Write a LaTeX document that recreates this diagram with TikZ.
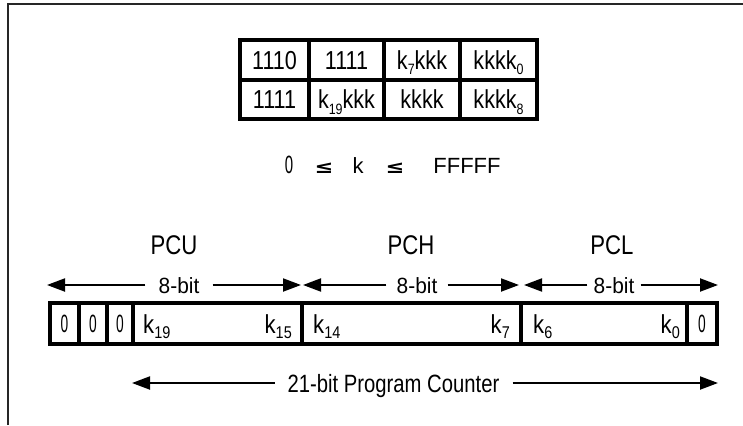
\documentclass[tikz,border=0pt]{standalone}
\usepackage{fontspec}
\setmainfont{Liberation Sans}
\newfontfamily\dejavu{DejaVu Sans}
\usetikzlibrary{arrows.meta}
\newcommand{\sx}[2]{\scalebox{#1}[1]{#2}}
\newcommand{\fs}[1]{\fontsize{#1}{#1}\selectfont}
\newcommand{\tsub}[1]{\raisebox{-0.2em}{\fs{15}#1}}
\newcommand{\psub}[1]{\raisebox{-0.2em}{\fs{17}#1}}
\begin{document}
\begin{tikzpicture}[x=1pt,y=-1pt,
  frameline/.style={line width=2pt, draw=black!85},
  tcell/.style n args={2}{draw, line width=3.8pt, minimum width=#1pt, minimum height=#2pt,
    inner sep=0pt, font=\fs{26}, text height=19pt, text depth=0pt},
  pcell/.style={draw, line width=3.8pt, minimum width=#1pt, minimum height=41pt,
    inner sep=0pt, font=\fs{25}, text height=18pt, text depth=0pt},
  klbl/.style={inner sep=0pt, font=\fs{26}},
  reglbl/.style={inner sep=0pt, font=\fs{27}, anchor=base},
  bitlbl/.style={inner ysep=0pt, inner xsep=#1pt, font=\fs{22}, text height=16pt, text depth=0pt},
  pclbl/.style={inner ysep=0pt, inner xsep=13pt, font=\fs{25}, text height=18pt, text depth=0pt},
  rng/.style={inner sep=0pt, anchor=base, font=\fs{22}},
  arr/.style={line width=2pt, -{Triangle[length=18pt,width=13pt]}}
]
\useasboundingbox (0,0) rectangle (743,425);
\fill[white] (0,0) rectangle (743,425);

% frame
\draw[frameline] (8,425) -- (8,4) -- (743,4);

% instruction table
\node[tcell={69}{40}] (t11) at (274.5,60)  {\sx{0.83}{1110}};
\node[tcell={75}{40}] (t12) at (346.5,60)  {\sx{0.83}{1111}};
\node[tcell={76}{40}] (t13) at (422,60)    {\sx{0.83}{k\tsub{7}kkk}};
\node[tcell={77}{40}] (t14) at (498.5,60)  {\sx{0.83}{kkkk\tsub{0}}};
\node[tcell={69}{39}] (t21) at (274.5,99.5) {\sx{0.83}{1111}};
\node[tcell={75}{39}] (t22) at (346.5,99.5) {\sx{0.83}{k\tsub{19}kkk}};
\node[tcell={76}{39}] (t23) at (422,99.5)   {\sx{0.83}{kkkk}};
\node[tcell={77}{39}] (t24) at (498.5,99.5) {\sx{0.83}{kkkk\tsub{8}}};

% range
\node[rng] (r0) at (289,173) {\sx{0.6}{\fs{25}0}};
\node[rng] (r1) at (324,173) {\sx{1.25}{\fs{18}\dejavu\bfseries ≤}};
\node[rng] (rk) at (358,173) {k};
\node[rng] (r2) at (395,173) {\sx{1.25}{\fs{18}\dejavu\bfseries ≤}};
\node[rng] (rF) at (467,173) {FFFFF};

% register labels
\node[reglbl] (pcu) at (174,254) {\sx{0.82}{PCU}};
\node[reglbl] (pch) at (411,254) {\sx{0.82}{PCH}};
\node[reglbl] (pcl) at (612,254) {\sx{0.82}{PCL}};

% 8-bit arrows
\coordinate (u1) at (47,285);  \coordinate (u2) at (301,285);
\coordinate (h1) at (303,285); \coordinate (h2) at (519,285);
\coordinate (l1) at (524,285); \coordinate (l2) at (718,285);
\node[bitlbl=13] (bu) at (179,285) {\sx{0.95}{8-bit}};
\node[bitlbl=10] (bh) at (417,285) {\sx{0.95}{8-bit}};
\node[bitlbl=6]  (bl) at (614,285) {\sx{0.95}{8-bit}};
\draw[arr] (bu) -- (u1); \draw[arr] (bu) -- (u2);
\draw[arr] (bh) -- (h1); \draw[arr] (bh) -- (h2);
\draw[arr] (bl) -- (l1); \draw[arr] (bl) -- (l2);

% program counter register
\node[pcell=29]  (c1) at (64.5,323.5)  {\sx{0.55}{0}};
\node[pcell=28]  (c2) at (93,323.5)    {\sx{0.55}{0}};
\node[pcell=26]  (c3) at (120,323.5)   {\sx{0.55}{0}};
\node[pcell=169] (c4) at (217.5,323.5) {};
\node[pcell=219] (c5) at (411.5,323.5) {};
\node[pcell=166] (c6) at (604,323.5)   {};
\node[pcell=30]  (c7) at (702,323.5)   {\sx{0.55}{0}};
\node[klbl, anchor=base west] (k19) at (143,333) {\sx{0.85}{k\psub{19}}};
\node[klbl, anchor=base east] (k15) at (292,333) {\sx{0.85}{k\psub{15}}};
\node[klbl, anchor=base west] (k14) at (313,333) {\sx{0.85}{k\psub{14}}};
\node[klbl, anchor=base east] (k7)  at (510,333) {\sx{0.85}{k\psub{7}}};
\node[klbl, anchor=base west] (k6)  at (533,333) {\sx{0.85}{k\psub{6}}};
\node[klbl, anchor=base east] (k0)  at (680,333) {\sx{0.85}{k\psub{0}}};

% 21-bit arrow
\coordinate (p1) at (132,383); \coordinate (p2) at (718,383);
\node[pclbl] (pc) at (393.5,383) {\sx{0.81}{21-bit Program Counter}};
\draw[arr] (pc) -- (p1); \draw[arr] (pc) -- (p2);
\end{tikzpicture}
\end{document}
